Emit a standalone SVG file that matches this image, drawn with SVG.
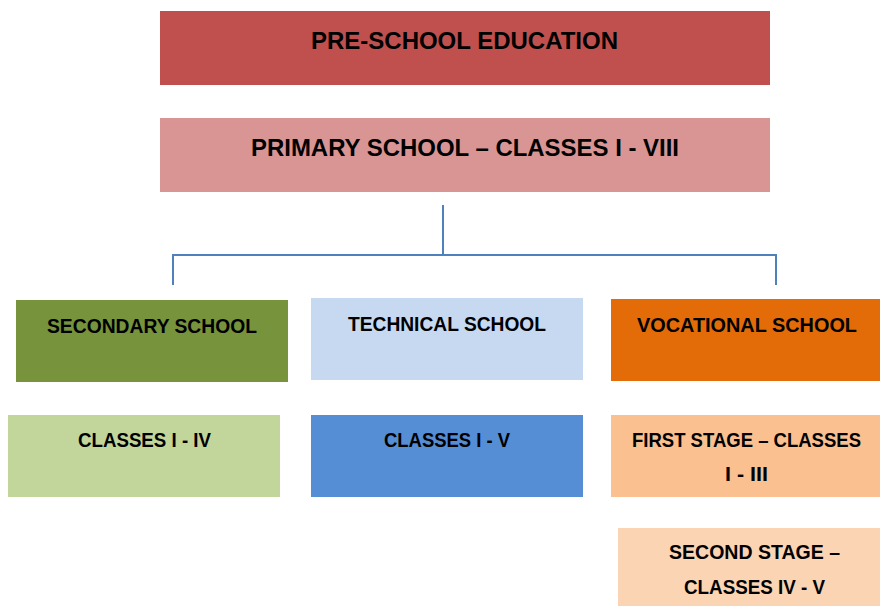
<svg xmlns="http://www.w3.org/2000/svg" width="880" height="606" viewBox="0 0 880 606">
<style>
text{font-family:"Liberation Sans",Arial,sans-serif;font-weight:bold;fill:#000;}
.big{font-size:24.5px;}
.med{font-size:20.5px;}
.conn{fill:none;stroke:#4F81BD;stroke-width:2;}
</style>
<rect width="880" height="606" fill="#fff"/>
<g id="connectors">
<path class="conn" d="M443 205 V255 M173 285 V255 H776 V285"/>
</g>
<g id="preschool">
<rect x="160" y="11" width="610" height="74" fill="#C0504D"/>
<text class="big" x="311" y="49" textLength="307" lengthAdjust="spacingAndGlyphs">PRE-SCHOOL EDUCATION</text>
</g>
<g id="primary">
<rect x="160" y="118" width="610" height="74" fill="#D99594"/>
<text class="big" x="251" y="156" textLength="428" lengthAdjust="spacingAndGlyphs">PRIMARY SCHOOL – CLASSES I - VIII</text>
</g>
<g id="secondary">
<rect x="16" y="300" width="272" height="82" fill="#77933C"/>
<text class="med" x="47" y="333" textLength="210" lengthAdjust="spacingAndGlyphs">SECONDARY SCHOOL</text>
</g>
<g id="secondary-classes">
<rect x="8" y="415" width="272" height="82" fill="#C2D69B"/>
<text class="med" x="78" y="447" textLength="133" lengthAdjust="spacingAndGlyphs">CLASSES I - IV</text>
</g>
<g id="technical">
<rect x="311" y="298" width="272" height="82" fill="#C6D9F1"/>
<text class="med" x="348" y="331" textLength="198" lengthAdjust="spacingAndGlyphs">TECHNICAL SCHOOL</text>
</g>
<g id="technical-classes">
<rect x="311" y="415" width="272" height="82" fill="#558ED5"/>
<text class="med" x="384" y="447" textLength="126" lengthAdjust="spacingAndGlyphs">CLASSES I - V</text>
</g>
<g id="vocational">
<rect x="611" y="299" width="269" height="82" fill="#E36C09"/>
<text class="med" x="637" y="332" textLength="220" lengthAdjust="spacingAndGlyphs">VOCATIONAL SCHOOL</text>
</g>
<g id="first-stage">
<rect x="611" y="415" width="269" height="82" fill="#FAC090"/>
<text class="med" x="632" y="447" textLength="229" lengthAdjust="spacingAndGlyphs">FIRST STAGE – CLASSES</text>
<text class="med" x="725" y="481" textLength="43" lengthAdjust="spacingAndGlyphs">I - III</text>
</g>
<g id="second-stage">
<rect x="618" y="528" width="262" height="78" fill="#FBD4B4"/>
<text class="med" x="669" y="559" textLength="171" lengthAdjust="spacingAndGlyphs">SECOND STAGE –</text>
<text class="med" x="684" y="594" textLength="141" lengthAdjust="spacingAndGlyphs">CLASSES IV - V</text>
</g>
</svg>
